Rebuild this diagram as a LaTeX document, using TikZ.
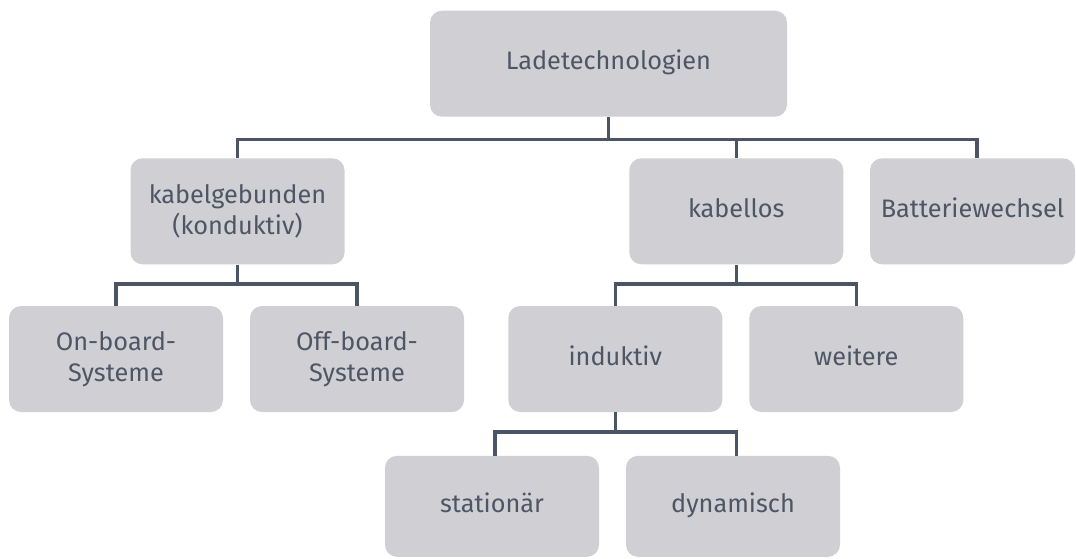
\documentclass[tikz,border=0pt]{standalone}
\usepackage{fontspec}
\setmainfont{Fira Sans}
\definecolor{boxgray}{RGB}{207,207,212}
\definecolor{linecol}{RGB}{76,85,100}
\definecolor{txtcol}{RGB}{78,86,101}
\begin{document}
\begin{tikzpicture}[x=1pt,y=-1pt,
  box/.style={fill=boxgray, rounded corners=12pt, minimum width=214pt, minimum height=106pt,
    inner sep=0pt, text=txtcol, font=\fontsize{25.3}{31}\selectfont},
  one/.style={text height=17pt, text depth=5pt},
  two/.style={align=center},
  conn/.style={draw=linecol, line width=3.4pt}]
\useasboundingbox (0,0) rectangle (1076,558);
\node[box,one,minimum width=357pt] (root) at (608.5,63.7) {Ladetechnologien};
\node[box,two] (kab) at (237.5,211.3) {kabelgebunden\\(konduktiv)};
\node[box,one] (kl) at (736.3,211.3) {kabellos};
\node[box,one,minimum width=205pt] (bat) at (972.5,211.3) {Batteriewechsel};
\node[box,two] (on) at (116,359) {On-board-\\Systeme};
\node[box,two] (off) at (357,359) {Off-board-\\Systeme};
\node[box,one] (ind) at (615.3,359) {induktiv};
\node[box,one] (wei) at (856.3,359) {weitere};
\node[box,one,minimum height=101pt] (sta) at (492,506.3) {stationär};
\node[box,one,minimum height=101pt] (dyn) at (733,506.3) {dynamisch};
% level 1
\draw[conn] (root.south) -- ++(0,22.6) coordinate (b1);
\draw[conn] (kab.north) |- (b1) -| ([xshift=4.5pt]bat.north);
\draw[conn] (kl.north) -- (kl.north |- b1);
% level 2
\draw[conn] (kab.south) -- ++(0,19.5) coordinate (b2);
\draw[conn] (on.north) |- (b2) -| (off.north);
\draw[conn] (kl.south) -- ++(0,19.5) coordinate (b3);
\draw[conn] (ind.north) |- (b3) -| (wei.north);
% level 3
\draw[conn] (ind.south) -- ++(0,19.7) coordinate (b4);
\draw[conn] ([xshift=3pt]sta.north) |- (b4) -| ([xshift=3.7pt]dyn.north);
\end{tikzpicture}
\end{document}
